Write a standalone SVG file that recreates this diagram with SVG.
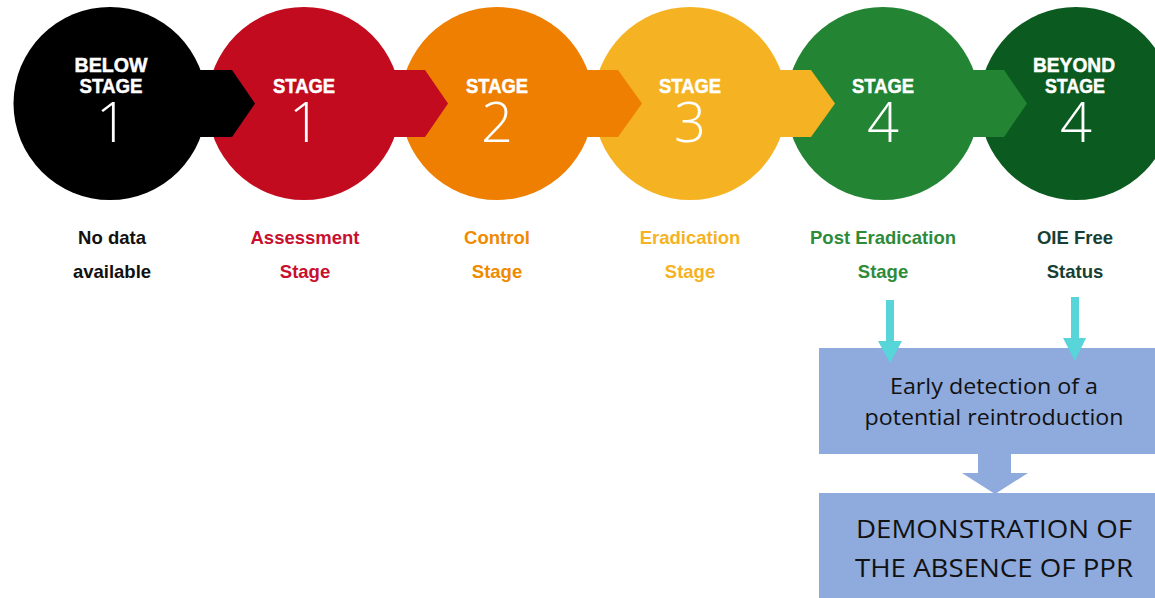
<svg xmlns="http://www.w3.org/2000/svg" width="1155" height="598" viewBox="0 0 1155 598">
<style>
.hd{font-family:"Liberation Sans",Arial,sans-serif;font-weight:bold;font-size:21px;fill:#fff;stroke:#fff;stroke-width:0.5;text-anchor:middle}
.num{font-family:"Open Sans","Liberation Sans",sans-serif;font-weight:300;font-size:56px;fill:#fff;text-anchor:middle}
.lb{font-family:"Liberation Sans",Arial,sans-serif;font-weight:bold;font-size:18.5px;text-anchor:middle}
.bx{fill:#8FAADC}
.t1{font-family:"Open Sans","Liberation Sans",sans-serif;font-size:21px;fill:#111;text-anchor:middle}
.t2{font-family:"Open Sans","Liberation Sans",sans-serif;font-size:26px;fill:#111;text-anchor:middle}
.cy{fill:#57D5D9}
</style>
<rect width="1155" height="598" fill="#fff"/>
<g id="circles">
<circle id="c0" cx="110" cy="103.5" r="96.5" fill="#000"/>
<circle id="c1" cx="304" cy="103.5" r="96.5" fill="#C20B1F"/>
<circle id="c2" cx="497" cy="103.5" r="96.5" fill="#EE7F00"/>
<circle id="c3" cx="690" cy="103.5" r="96.5" fill="#F5B324"/>
<circle id="c4" cx="883" cy="103.5" r="96.5" fill="#238533"/>
<circle id="c5" cx="1076" cy="103.5" r="96.5" fill="#0B5A20"/>
</g>
<g id="n0">
<text class="hd" x="111" y="72" textLength="73" lengthAdjust="spacingAndGlyphs">BELOW</text>
<text class="hd" x="111" y="93" textLength="63" lengthAdjust="spacingAndGlyphs">STAGE</text>
<text class="num" x="112" y="142">1</text>
<text class="lb" x="112" y="244" fill="#111">No data</text>
<text class="lb" x="112" y="278" fill="#111">available</text>
</g>
<g id="n1">
<text class="hd" x="304" y="93" textLength="62" lengthAdjust="spacingAndGlyphs">STAGE</text>
<text class="num" x="305" y="142">1</text>
<text class="lb" x="305" y="244" fill="#C8102E">Assessment</text>
<text class="lb" x="305" y="278" fill="#C8102E">Stage</text>
</g>
<g id="n2">
<text class="hd" x="497" y="93" textLength="62" lengthAdjust="spacingAndGlyphs">STAGE</text>
<text class="num" x="497" y="142">2</text>
<text class="lb" x="497" y="244" fill="#F08A00">Control</text>
<text class="lb" x="497" y="278" fill="#F08A00">Stage</text>
</g>
<g id="n3">
<text class="hd" x="690" y="93" textLength="62" lengthAdjust="spacingAndGlyphs">STAGE</text>
<text class="num" x="690" y="142">3</text>
<text class="lb" x="690" y="244" fill="#F5B324">Eradication</text>
<text class="lb" x="690" y="278" fill="#F5B324">Stage</text>
</g>
<g id="n4">
<text class="hd" x="883" y="93" textLength="62" lengthAdjust="spacingAndGlyphs">STAGE</text>
<text class="num" x="883" y="142">4</text>
<text class="lb" x="883" y="244" fill="#2E8B3A">Post Eradication</text>
<text class="lb" x="883" y="278" fill="#2E8B3A">Stage</text>
</g>
<g id="n5">
<text class="hd" x="1074" y="72" textLength="82" lengthAdjust="spacingAndGlyphs">BEYOND</text>
<text class="hd" x="1075" y="93" textLength="60" lengthAdjust="spacingAndGlyphs">STAGE</text>
<text class="num" x="1076" y="142">4</text>
<text class="lb" x="1075" y="244" fill="#173F33">OIE Free</text>
<text class="lb" x="1075" y="278" fill="#173F33">Status</text>
</g>
<g id="box1">
<rect class="bx" x="819" y="348" width="336" height="106"/>
<text class="t1" x="994" y="394" textLength="208" lengthAdjust="spacingAndGlyphs">Early detection of a</text>
<text class="t1" x="994" y="425" textLength="259" lengthAdjust="spacingAndGlyphs">potential reintroduction</text>
</g>
<g id="box2">
<rect class="bx" x="819" y="493" width="336" height="105"/>
<text class="t2" x="994" y="538" textLength="276" lengthAdjust="spacingAndGlyphs">DEMONSTRATION OF</text>
<text class="t2" x="994" y="577" textLength="278" lengthAdjust="spacingAndGlyphs">THE ABSENCE OF PPR</text>
</g>
<g id="connectors">
<polygon points="170,70 232,70 255,103.5 232,137 170,137" fill="#000"/>
<polygon points="364,70 425,70 448,103.5 425,137 364,137" fill="#C20B1F"/>
<polygon points="557,70 618,70 642,103.5 618,137 557,137" fill="#EE7F00"/>
<polygon points="750,70 811,70 835,103.5 811,137 750,137" fill="#F5B324"/>
<polygon points="943,70 1004,70 1027,103.5 1004,137 943,137" fill="#238533"/>
<polygon class="cy" points="886,300 894,300 894,341 902,341 890,363 878,341 886,341"/>
<polygon class="cy" points="1071,297 1079,297 1079,338 1086,338 1075,361 1063,338 1071,338"/>
<polygon class="bx" points="978,454 1011,454 1011,473 1028,473 995,494 962,473 978,473"/>
</g>
</svg>
